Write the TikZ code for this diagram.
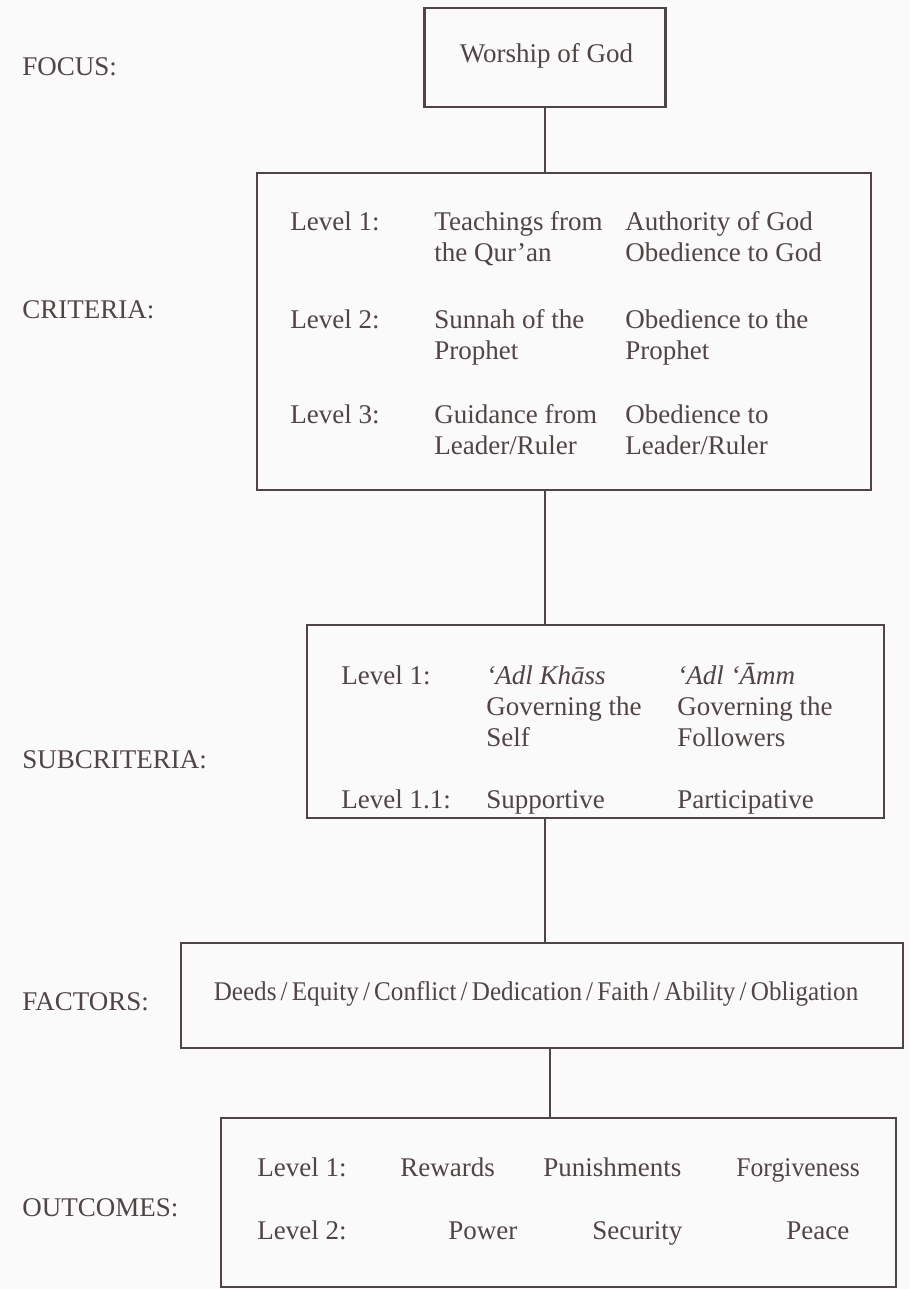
\documentclass[tikz,border=0pt]{standalone}
\usepackage{fontspec}
\setmainfont{Liberation Serif}
\usepackage{graphicx}
\usepackage{tikz}
\usetikzlibrary{positioning,calc}
\definecolor{ink}{HTML}{504444}
\definecolor{paper}{HTML}{FAFAFA}

\begin{document}
\begin{tikzpicture}[x=0.5pt,y=-0.5pt,
   font=\fontsize{13.5}{15.5}\selectfont,text=ink,
   box/.style={draw=ink,line width=1.4pt,inner sep=0pt},
   lbl/.style={anchor=base west,inner sep=0pt},
   cell/.style={anchor=base west,inner sep=0pt,align=left},
   link/.style={draw=ink,line width=1.4pt}]
  \fill[paper] (0,0) rectangle (910,1289);
  \useasboundingbox (0,0) rectangle (910,1289);

  % level names on the left
  \node[lbl] (lfocus) at (22,76)   {FOCUS:};
  \node[lbl] (lcrit)  at (22,318)  {CRITERIA:};
  \node[lbl] (lsub)   at (22,768)  {SUBCRITERIA:};
  \node[lbl] (lfac)   at (22,1010) {FACTORS:};
  \node[lbl] (lout)   at (22,1216) {OUTCOMES:};

  % boxes
  \node[box,minimum width=120.5pt,minimum height=49.5pt] (focus) at (545,57.5) {};
  \node[lbl,anchor=base] (fword) at (546.5,63) {Worship of God};
  \node[box,minimum width=307pt,minimum height=158.5pt] (crit) at (564,331.5) {};
  \node[box,minimum width=288.5pt,minimum height=96.5pt] (sub) at (595.5,721.5) {};
  \node[box,minimum width=361pt,minimum height=52.5pt] (fac) at (542,995.5) {};
  \node[box,minimum width=337.5pt,minimum height=84.5pt] (out) at (558.5,1202.5) {};

  % criteria (cells sit on the baseline of their last line)
  \node[lbl]  (c1)  at (290,231) {Level 1:};
  \node[cell] (c1a) at (434,262) {Teachings from\\the Qur’an};
  \node[cell] (c1b) at (625,262) {Authority of God\\Obedience to God};
  \node[lbl]  (c2)  at (290,328) {Level 2:};
  \node[cell] (c2a) at (434,359) {Sunnah of the\\Prophet};
  \node[cell] (c2b) at (625,359) {Obedience to the\\Prophet};
  \node[lbl]  (c3)  at (290,423) {Level 3:};
  \node[cell] (c3a) at (434,454) {Guidance from\\Leader/Ruler};
  \node[cell] (c3b) at (625,454) {Obedience to\\Leader/Ruler};

  % subcriteria
  \node[lbl]  (s1)  at (341,684) {Level 1:};
  \node[cell] (s1a) at (486,746) {\textit{‘Adl Khāss}\\Governing the\\Self};
  \node[cell] (s1b) at (677,746) {\textit{‘Adl ‘Āmm}\\Governing the\\Followers};
  \node[lbl]  (s2)  at (341,808) {Level 1.1:};
  \node[lbl]  (s2a) at (486,808) {Supportive};
  \node[lbl]  (s2b) at (677,808) {Participative};

  % factors
  \node[lbl,anchor=base] (fline) at (536,1000)
    {\scalebox{0.93}[1]{Deeds\,/\,Equity\,/\,Conflict\,/\,Dedication\,/\,Faith\,/\,Ability\,/\,Obligation}};

  % outcomes
  \node[lbl] (o1)  at (257,1176) {Level 1:};
  \node[lbl] (o1a) at (400,1176) {Rewards};
  \node[lbl] (o1b) at (543,1176) {Punishments};
  \node[lbl] (o1c) at (736,1176) {\scalebox{0.95}[1]{Forgiveness}};
  \node[lbl] (o2)  at (257,1239) {Level 2:};
  \node[lbl] (o2a) at (448,1239) {Power};
  \node[lbl] (o2b) at (592,1239) {Security};
  \node[lbl] (o2c) at (786,1239) {Peace};

  % connectors
  \coordinate (j4) at ($(fac.south)+(8,0)$);
  \draw[link] (focus.south) -- (focus.south |- crit.north);
  \draw[link] (focus.south |- crit.south) -- (focus.south |- sub.north);
  \draw[link] (focus.south |- sub.south) -- (focus.south |- fac.north);
  \draw[link] (j4) -- (j4 |- out.north);
\end{tikzpicture}
\end{document}
